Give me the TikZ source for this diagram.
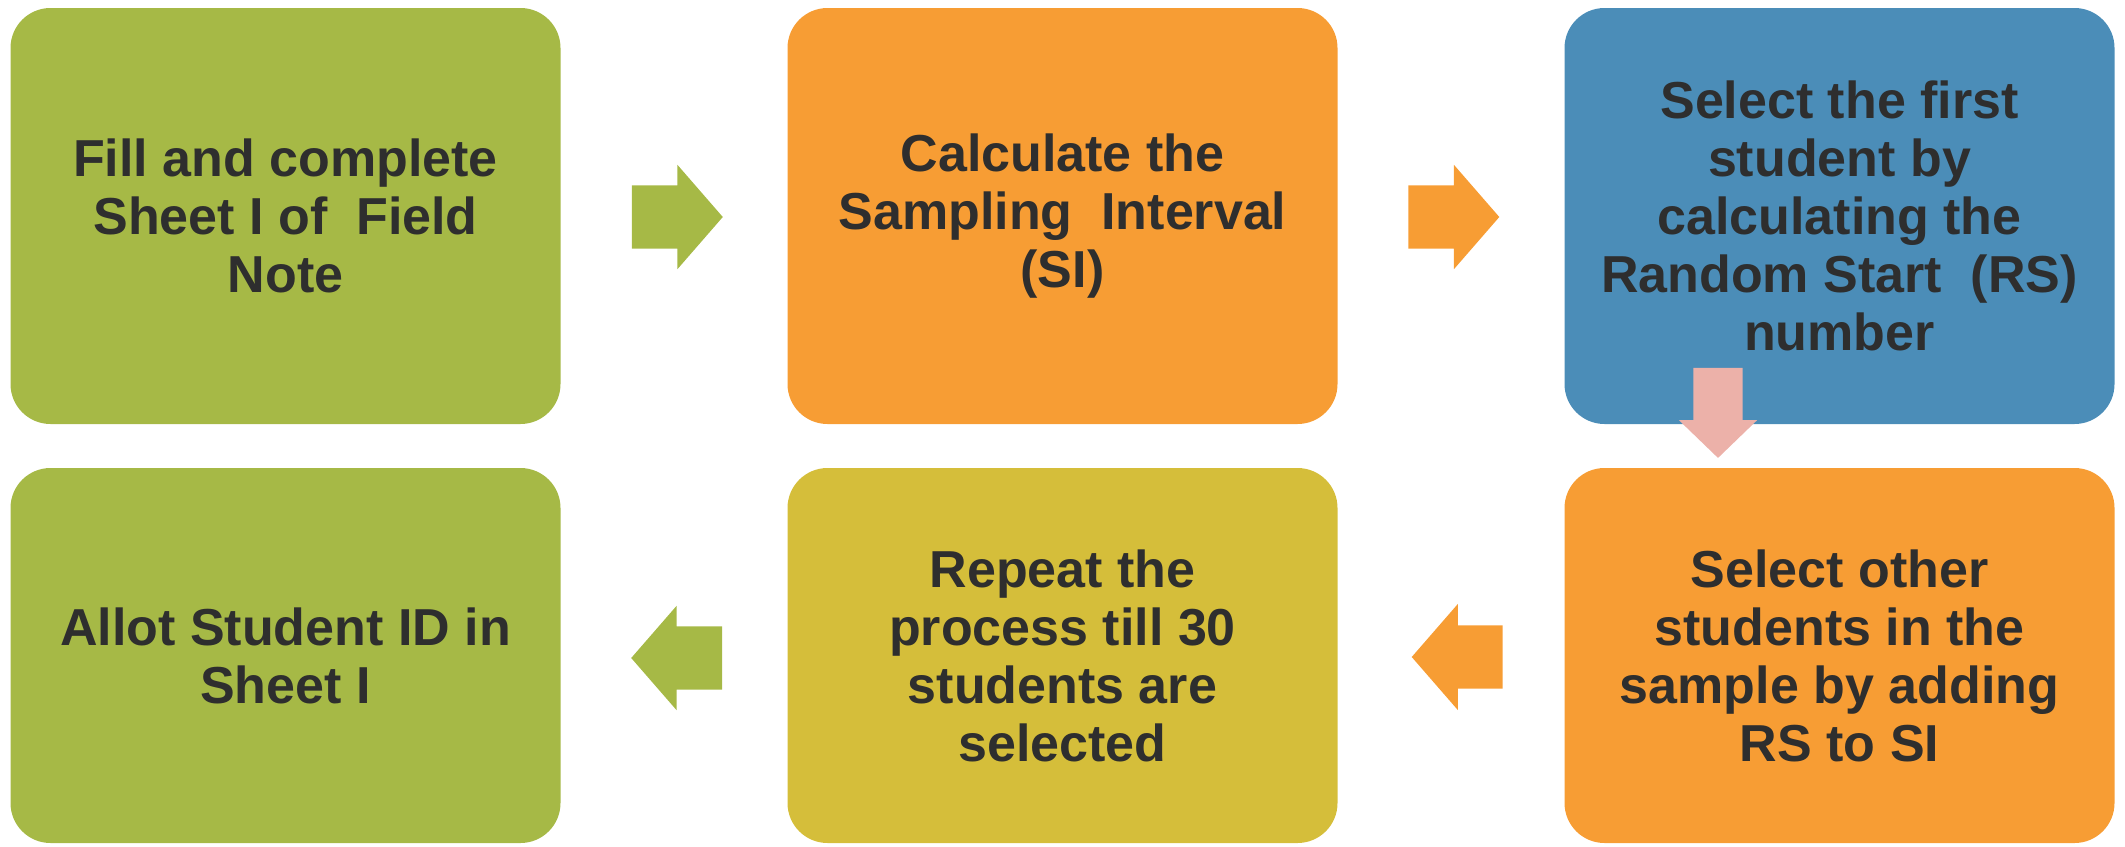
\documentclass[tikz,border=0pt]{standalone}
\usepackage{fontspec}
\setmainfont{Liberation Sans}
\usetikzlibrary{shapes.arrows}
\definecolor{boxgreen}{HTML}{A6B946}
\definecolor{boxorange}{HTML}{F79D34}
\definecolor{boxblue}{HTML}{4B8DB8}
\definecolor{boxyellow}{HTML}{D5BE3A}
\definecolor{arrpink}{HTML}{ECB1A9}
\definecolor{txt}{HTML}{2E2E2E}
\begin{document}
\begin{tikzpicture}[x=1pt,y=-1pt,
  box/.style={rounded corners=40pt, inner sep=0pt, align=center, text=txt,
    font=\fontsize{52}{58}\selectfont\bfseries, minimum width=550pt},
  toprow/.style={minimum height=416pt},
  botrow/.style={minimum height=375pt},
  blockarrow/.style={single arrow, inner xsep=0pt, inner ysep=31.5pt, draw=none,
    minimum height=91pt, single arrow head extend=20.5pt,
    single arrow tip angle=98},
]
\useasboundingbox (0,0) rectangle (2125,846);
% boxes
\node[box, toprow, fill=boxgreen] (b1) at (285.5,216) {Fill and complete\\Sheet I of \ Field\\Note};
\node[box, toprow, fill=boxorange] (b2) at (1062.5,216) {Calculate the\\Sampling \ Interval\\(SI)};
\node[box, toprow, fill=boxblue] (b3) at (1839.5,216) {Select the first\\student by\\calculating the\\Random Start \ (RS)\\number};
\node[box, botrow, fill=boxorange] (b6) at (1839.5,655.5) {Select other\\students in the\\sample by adding\\RS to SI};
\node[box, botrow, fill=boxyellow] (b5) at (1062.5,655.5) {Repeat the\\process till 30\\students are\\selected};
\node[box, botrow, fill=boxgreen] (b4) at (285.5,655.5) {Allot Student ID in\\Sheet I};
% arrows
\node[blockarrow, fill=boxgreen] (a12) at (663.5,217) {};
\node[blockarrow, fill=boxorange] (a23) at (1440,217) {};
\node[blockarrow, fill=arrpink, rotate=-90, minimum height=90pt,
  inner ysep=24.5pt, single arrow head extend=14.5pt, single arrow tip angle=92] (a36) at (1718,401) {};
\node[blockarrow, fill=boxorange, shape border rotate=180,
  single arrow head extend=21.5pt] (a65) at (1471,657) {};
\node[blockarrow, fill=boxgreen, shape border rotate=180] (a54) at (690.5,658) {};
\end{tikzpicture}
\end{document}
